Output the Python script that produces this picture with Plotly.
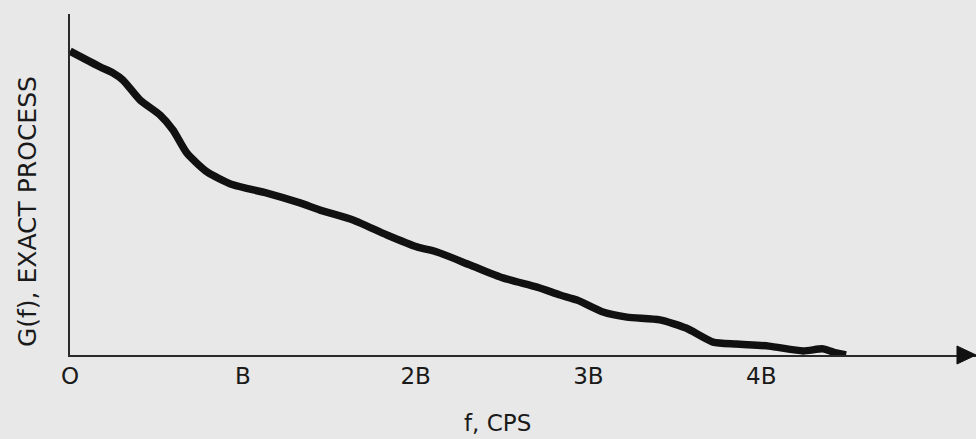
import plotly.graph_objects as go

# Frequency in units of B
freq = [0.000, 0.174, 0.249, 0.307, 0.405, 0.521, 0.596, 0.677, 0.793, 0.943,
        1.140, 1.331, 1.447, 1.638, 1.834, 2.008, 2.124, 2.315, 2.506, 2.703,
        2.836, 2.934, 3.084, 3.223, 3.414, 3.565, 3.721, 3.854, 4.045, 4.242,
        4.358, 4.433, 4.491]
# G(f), exact process (relative units)
gf = [0.891, 0.845, 0.827, 0.806, 0.748, 0.704, 0.660, 0.592, 0.537, 0.499,
      0.475, 0.446, 0.425, 0.396, 0.352, 0.317, 0.302, 0.264, 0.226, 0.199,
      0.176, 0.161, 0.126, 0.111, 0.103, 0.079, 0.038, 0.032, 0.026, 0.012,
      0.018, 0.006, 0.000]

tick_vals = [0, 1, 2, 3, 4]
tick_text = ["O", "B", "2B", "3B", "4B"]

BG = "#e8e8e8"
INK = "#111111"
FONT = "DejaVu Sans"

fig = go.Figure()
fig.add_trace(go.Scatter(
    x=freq, y=gf, mode="lines",
    line=dict(color=INK, width=7.5, shape="spline", smoothing=0.6),
    hoverinfo="skip", showlegend=False,
))

fig.update_layout(
    width=976, height=439,
    margin=dict(l=70, r=0, t=14, b=84),
    paper_bgcolor=BG, plot_bgcolor=BG,
    font=dict(family=FONT, color="#1a1a1a"),
    showlegend=False,
    xaxis=dict(
        range=[0, 5.243], showgrid=False, zeroline=False,
        showline=True, linecolor="#2a2a2a", linewidth=1.5,
        tickvals=tick_vals, ticktext=tick_text, ticks="",
        tickfont=dict(family=FONT, size=23, color="#1a1a1a"),
        ticklabelstandoff=0,
        fixedrange=True,
    ),
    yaxis=dict(
        range=[0, 1], showgrid=False, zeroline=False,
        showline=True, linecolor="#2a2a2a", linewidth=1.5,
        showticklabels=False, ticks="",
        fixedrange=True,
    ),
    shapes=[dict(
        type="path", xref="paper", yref="paper",
        path="M 0.979 0.0264 L 1.0 0 L 0.979 -0.0264 Z",
        fillcolor="#111111", line=dict(color="#111111", width=1),
        layer="above",
    )],
    annotations=[
        dict(text="f, CPS", xref="paper", yref="paper", x=0.472, y=-0.199,
             xanchor="center", yanchor="middle", showarrow=False,
             font=dict(family=FONT, size=23, color="#1a1a1a")),
        dict(text="G(f), EXACT PROCESS", xref="paper", yref="paper",
             x=-0.0475, y=0.422, xanchor="center", yanchor="middle",
             textangle=-90, showarrow=False,
             font=dict(family=FONT, size=25, color="#1a1a1a")),
    ],
)

fig.write_html(
    "out.html",
    config={"displayModeBar": False},
    post_script="document.body.style.margin='0';document.body.style.padding='0';"
                "document.body.style.overflow='hidden';"
                "document.body.style.background='" + BG + "';",
)
